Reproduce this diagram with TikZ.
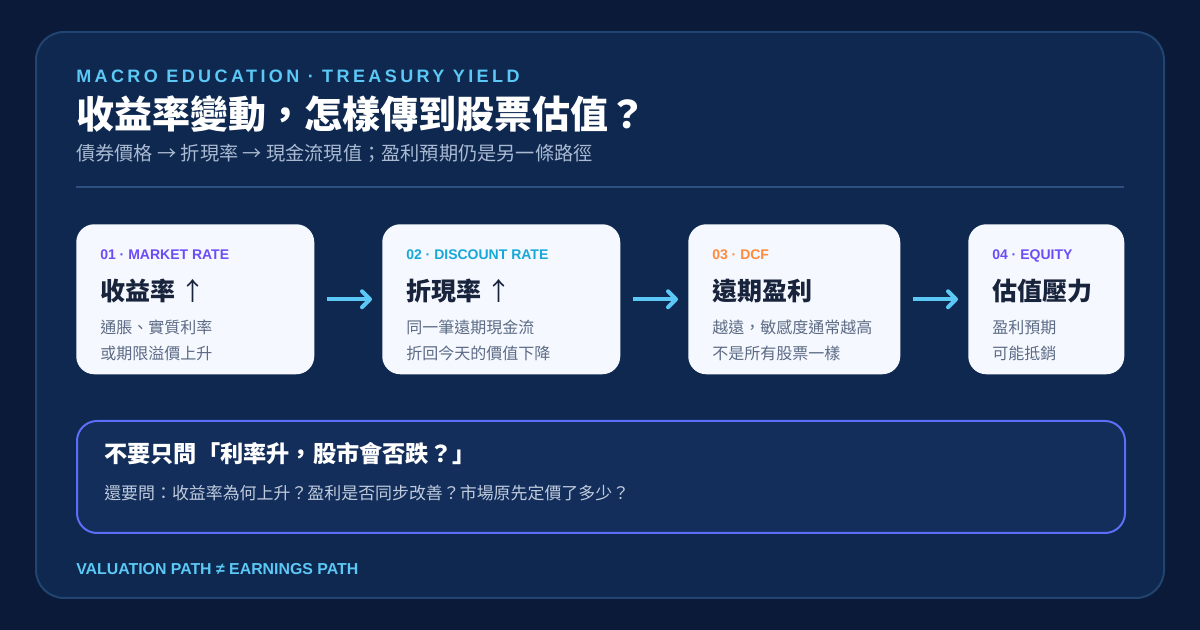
\documentclass[tikz,border=0pt]{standalone}
\usepackage{fontspec}
\usepackage{tikz}
\setmainfont{Liberation Sans}
\newfontfamily\cjk{Noto Sans CJK TC}
\newfontfamily\kickerfont[LetterSpace=19]{Liberation Sans}
\usetikzlibrary{arrows.meta, positioning}
\definecolor{pagenavy}{RGB}{10, 26, 56}
\definecolor{panelnavy}{RGB}{14, 40, 80}
\definecolor{panelline}{RGB}{34, 68, 112}
\definecolor{boxnavy}{RGB}{19, 46, 90}
\definecolor{boxline}{RGB}{92, 110, 246}
\definecolor{skyline}{RGB}{92, 200, 245}
\definecolor{subgrey}{RGB}{170, 186, 210}
\definecolor{rulecol}{RGB}{46, 80, 128}
\definecolor{cardwhite}{RGB}{245, 248, 254}
\definecolor{inkdark}{RGB}{24, 35, 60}
\definecolor{slate}{RGB}{92, 107, 133}
\definecolor{tagpurple}{RGB}{108, 76, 246}
\definecolor{tagcyan}{RGB}{22, 168, 216}
\definecolor{tagorange}{RGB}{255, 138, 61}
\definecolor{askgrey}{RGB}{192, 204, 222}

\begin{document}
\begin{tikzpicture}[x=0.75pt, y=-0.75pt,
			card/.style={rectangle, fill=cardwhite, rounded corners=13.5pt, minimum height=112.5pt, inner sep=0pt, anchor=north west},
			tag/.style={anchor=base west, inner sep=0pt, font=\bfseries\fontsize{10.5}{12}\selectfont},
			head/.style={anchor=base west, inner sep=0pt, text=inkdark, font=\cjk\bfseries\fontsize{18.75}{22}\selectfont},
			note/.style={anchor=base west, inner sep=0pt, text=slate, font=\cjk\fontsize{12}{14}\selectfont},
			flow/.style={-{Straight Barb[length=6pt, width=12pt, line cap=round, line join=round]}, line width=3pt, draw=skyline, shorten <=9pt, shorten >=7.5pt}
		]
		\useasboundingbox (0,0) rectangle (1200,630);
		\fill[pagenavy] (0,0) rectangle (1200,630);
		\draw[panelline, fill=panelnavy, line width=1.5pt, rounded corners=21pt] (36,32) rectangle (1164,598);
		
		% header
		\node[anchor=base west, inner sep=0pt, text=skyline, font=\kickerfont\bfseries\fontsize{13.5}{16}\selectfont] (kicker) at (76,83) {MACRO\ EDUCATION\ · TREASURY\ YIELD};
		\node[anchor=base west, inner sep=0pt, text=white, font=\cjk\bfseries\fontsize{28.5}{32}\selectfont] (title) at (76,129) {收益率變動，怎樣傳到股票估值？};
		\node[anchor=base west, inner sep=0pt, text=subgrey, font=\cjk\fontsize{14.4}{17}\selectfont] (subtitle) at (76,161) {債券價格 → 折現率 → 現金流現值；盈利預期仍是另一條路徑};
		\draw[rulecol, line width=1.5pt] (76,187) -- (1124,187);
		
		% cards
		\node[card, minimum width=178.5pt] (market) at (76,224) {};
		\node[card, minimum width=178.5pt] (discount) at (382,224) {};
		\node[card, minimum width=159pt] (dcf) at (688,224) {};
		\node[card, minimum width=117pt] (equity) at (968,224) {};
		
		\node[tag, text=tagpurple] (markettag) at ([shift={(24,36)}]market.north west) {01 · MARKET RATE};
		\node[head] (markethead) at ([shift={(24,77)}]market.north west) {收益率 {\mdseries ↑}};
		\node[note] (marketa) at ([shift={(24,110)}]market.north west) {通脹、實質利率};
		\node[note] (marketb) at ([shift={(24,136)}]market.north west) {或期限溢價上升};
		
		\node[tag, text=tagcyan] (discounttag) at ([shift={(24,36)}]discount.north west) {02 · DISCOUNT RATE};
		\node[head] (discounthead) at ([shift={(24,77)}]discount.north west) {折現率 {\mdseries ↑}};
		\node[note] (discounta) at ([shift={(24,110)}]discount.north west) {同一筆遠期現金流};
		\node[note] (discountb) at ([shift={(24,136)}]discount.north west) {折回今天的價值下降};
		
		\node[tag, text=tagorange] (dcftag) at ([shift={(24,36)}]dcf.north west) {03 · DCF};
		\node[head] (dcfhead) at ([shift={(24,77)}]dcf.north west) {遠期盈利};
		\node[note] (dcfa) at ([shift={(24,110)}]dcf.north west) {越遠，敏感度通常越高};
		\node[note] (dcfb) at ([shift={(24,136)}]dcf.north west) {不是所有股票一樣};
		
		\node[tag, text=tagpurple] (equitytag) at ([shift={(24,36)}]equity.north west) {04 · EQUITY};
		\node[head] (equityhead) at ([shift={(24,77)}]equity.north west) {估值壓力};
		\node[note] (equitya) at ([shift={(24,110)}]equity.north west) {盈利預期};
		\node[note] (equityb) at ([shift={(24,136)}]equity.north west) {可能抵銷};
		
		\draw[flow] (market) -- (discount);
		\draw[flow] (discount) -- (dcf);
		\draw[flow] (dcf) -- (equity);
		
		% question box
		\node[rectangle, anchor=north west, draw=boxline, fill=boxnavy, line width=1.5pt, rounded corners=15pt, minimum width=786pt, minimum height=84pt, inner sep=0pt] (askbox) at (76,420) {};
		\node[anchor=base west, inner sep=0pt, text=white, font=\cjk\bfseries\fontsize{17.4}{20}\selectfont] (asktitle) at ([shift={(28,43)}]askbox.north west) {不要只問「利率升，股市會否跌？」};
		\node[anchor=base west, inner sep=0pt, text=askgrey, font=\cjk\fontsize{12.7}{15}\selectfont] (askbody) at ([shift={(28,80)}]askbox.north west) {還要問：收益率為何上升？盈利是否同步改善？市場原先定價了多少？};
		
		\node[anchor=base west, inner sep=0pt, text=skyline, font=\bfseries\fontsize{11.9}{14}\selectfont] (footer) at (76,575) {VALUATION PATH ≠ EARNINGS PATH};
\end{tikzpicture}
\end{document}
